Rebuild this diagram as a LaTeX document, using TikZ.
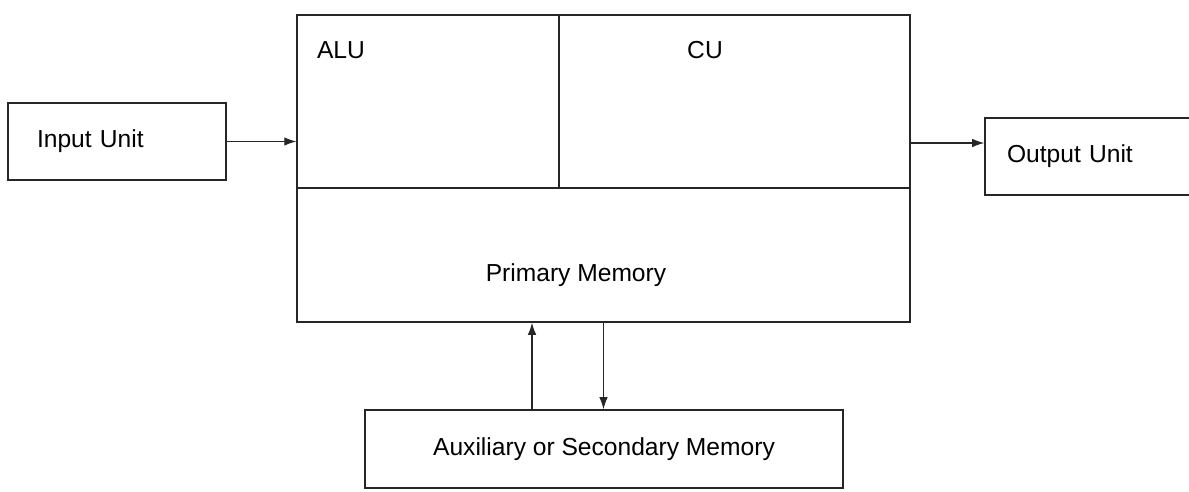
\documentclass[tikz,border=0pt]{standalone}
\usepackage{fontspec}
\setmainfont{Liberation Sans}
\usetikzlibrary{arrows.meta}

\begin{document}
\begin{tikzpicture}[x=0.02cm,y=-0.02cm,>={Latex[length=2.4mm,width=1.7mm]}]
        \tikzstyle{block}=[rectangle,draw=black!85,line width=0.9pt,inner sep=0pt,font=\fontsize{14}{16}\selectfont]
        \tikzstyle{txt}=[inner sep=0pt,font=\fontsize{14}{16}\selectfont]
        \tikzstyle{link}=[->,draw=black!85,line width=0.6pt]
        \useasboundingbox (0,0) rectangle (1189,492);

        \node[block,minimum height=1.54cm,text width=3.2cm,inner xsep=0.58cm,align=left] (input) at (117,141.5) {Input Unit};
        \node[block,minimum height=1.54cm,text width=3.42cm,inner xsep=0.44cm,align=left] (output) at (1092.5,156.5) {Output Unit};
        \node[block,minimum width=12.26cm,minimum height=6.14cm] (cpu) at (603.5,168.5) {};
        \node[block,minimum width=9.56cm,minimum height=1.56cm] (aux) at (604,449) {Auxiliary or Secondary Memory};

        % ALU / CU split and primary memory
        \coordinate (split) at (559,188);
        \draw[draw=black!85,line width=0.9pt] (cpu.west |- split) -- (cpu.east |- split);
        \draw[draw=black!85,line width=0.9pt] (split) -- (split |- cpu.north);
        \node[txt] (alu) at (341,50) {ALU};
        \node[txt] (cu) at (705,50) {CU};
        \node[txt] (pm) at (576,275) {Primary Memory};

        \draw[link] (input) -- (input -| cpu.west);
        \draw[link] ([yshift=0.27cm]output.west -| cpu.east) -- ([yshift=0.27cm]output.west);
        \draw[link] ([xshift=-1.44cm]aux.north) -- ([xshift=-1.44cm]aux.north |- cpu.south);
        \draw[link] (cpu.south) -- (cpu.south |- aux.north);
\end{tikzpicture}
\end{document}
